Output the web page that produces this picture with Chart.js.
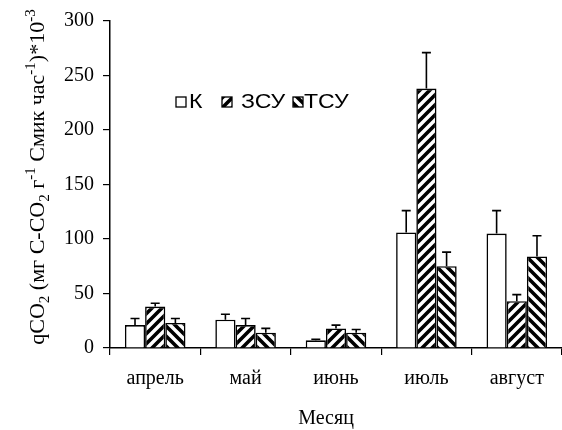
<!DOCTYPE html>
<html>
<head>
<meta charset="utf-8">
<script src="https://cdn.jsdelivr.net/npm/chart.js@4.4.1/dist/chart.umd.min.js"></script>
<style>
  body { margin: 0; background: #fff; }
  canvas { display: block; }
</style>
</head>
<body>
<canvas id="qco2Chart" width="562" height="430"></canvas>
<script>
// Data
const months = ['апрель', 'май', 'июнь', 'июль', 'август'];
const seriesNames = ['К', 'ЗСУ', 'ТСУ'];
const valuesK   = [21, 26, 7, 106, 105];
const valuesZSU = [38, 21, 18, 238, 43];
const valuesTSU = [23, 14, 14, 75, 84];
const errK   = [6, 5, 1, 20, 21];
const errZSU = [3, 6, 3, 33, 6];
const errTSU = [4, 4, 3, 13, 19];
const yTicks = [0, 50, 100, 150, 200, 250, 300];

const serif = '"Liberation Serif", "Times New Roman", serif';
const sans = '"Liberation Sans", Arial, sans-serif';

// Striped fills for ЗСУ (/) and ТСУ (\)
function makeStripes(forward) {
    const size = 10;
    const c = document.createElement('canvas');
    c.width = size; c.height = size;
    const ctx = c.getContext('2d');
    ctx.fillStyle = '#fff';
    ctx.fillRect(0, 0, size, size);
    ctx.strokeStyle = '#000';
    ctx.lineWidth = 3.6;
    ctx.beginPath();
    for (let k = -1; k <= 1; k++) {
        if (forward) {
            ctx.moveTo(-size + k * size, 2 * size);
            ctx.lineTo(2 * size + k * size, -size);
        } else {
            ctx.moveTo(-size + k * size, -size);
            ctx.lineTo(2 * size + k * size, 2 * size);
        }
    }
    ctx.stroke();
    return ctx.createPattern(c, 'repeat');
}

// Upward error bars, drawn through the y scale
const errorBars = {
    id: 'errorBars',
    afterDatasetsDraw(chart) {
        const ctx = chart.ctx;
        const yScale = chart.scales.y;
        ctx.save();
        ctx.strokeStyle = '#000';
        ctx.lineWidth = 1.6;
        chart.data.datasets.forEach((ds, i) => {
            const meta = chart.getDatasetMeta(i);
            meta.data.forEach((bar, j) => {
                const top = yScale.getPixelForValue(ds.data[j] + ds.errors[j]);
                ctx.beginPath();
                ctx.moveTo(bar.x, bar.y);
                ctx.lineTo(bar.x, top);
                ctx.moveTo(bar.x - 4.5, top);
                ctx.lineTo(bar.x + 4.5, top);
                ctx.stroke();
            });
        });
        ctx.restore();
    }
};

// Legend inside the plot, like the original (slightly wide sans text)
const innerLegend = {
    id: 'innerLegend',
    afterDraw(chart) {
        const ctx = chart.ctx;
        const boxX = [176, 222, 293];
        const textX = [189, 241, 304];
        const y = 101;
        ctx.save();
        ctx.font = '21px ' + sans;
        ctx.textBaseline = 'middle';
        chart.data.datasets.forEach((ds, i) => {
            ctx.fillStyle = ds.backgroundColor;
            ctx.fillRect(boxX[i], y - 4, 10, 10);
            ctx.strokeStyle = '#000';
            ctx.lineWidth = 1.3;
            ctx.strokeRect(boxX[i], y - 4, 10, 10);
            ctx.fillStyle = '#000';
            ctx.save();
            ctx.translate(textX[i], y + 1);
            ctx.scale(1.1, 1);
            ctx.fillText(ds.label, 0, 0);
            ctx.restore();
        });
        ctx.restore();
    }
};

// Axis titles: rotated y title with sub/superscripts, x title
const axisTitles = {
    id: 'axisTitles',
    afterDraw(chart) {
        const ctx = chart.ctx;
        const parts = [
            ['qCO', 0], ['2', 1], [' (мг C-CO', 0], ['2', 1], [' г', 0], ['-1', -1],
            [' Cмик час', 0], ['-1', -1], [')*10', 0], ['-3', -1]
        ];
        const big = '22px ' + serif;
        const small = '15px ' + serif;
        ctx.save();
        let total = 0;
        parts.forEach(p => {
            ctx.font = p[1] === 0 ? big : small;
            total += ctx.measureText(p[0]).width;
        });
        ctx.translate(37, 177);
        ctx.rotate(-Math.PI / 2);
        ctx.fillStyle = '#000';
        ctx.textBaseline = 'alphabetic';
        let x = -total / 2;
        parts.forEach(p => {
            ctx.font = p[1] === 0 ? big : small;
            const dy = p[1] === 1 ? 5 : (p[1] === -1 ? -9 : 0);
            ctx.fillText(p[0], x, 7 + dy);
            x += ctx.measureText(p[0]).width;
        });
        ctx.restore();

        ctx.save();
        ctx.font = '20px ' + serif;
        ctx.fillStyle = '#000';
        ctx.textAlign = 'center';
        ctx.textBaseline = 'middle';
        ctx.fillText('Месяц', 326, 419);
        ctx.restore();
    }
};

const ctx = document.getElementById('qco2Chart').getContext('2d');
const qco2Chart = new Chart(ctx, {
    type: 'bar',
    data: {
        labels: months,
        datasets: [
            { label: seriesNames[0], data: valuesK, errors: errK, backgroundColor: '#fff' },
            { label: seriesNames[1], data: valuesZSU, errors: errZSU, backgroundColor: makeStripes(true) },
            { label: seriesNames[2], data: valuesTSU, errors: errTSU, backgroundColor: makeStripes(false) }
        ].map(ds => Object.assign(ds, {
            borderColor: '#000',
            borderWidth: 1.6,
            categoryPercentage: 0.67,
            barPercentage: 1
        }))
    },
    options: {
        responsive: false,
        animation: false,
        layout: { padding: { top: 10, right: 0, left: 0, bottom: 0 } },
        plugins: {
            legend: { display: false },
            tooltip: { enabled: false }
        },
        scales: {
            x: {
                grid: { display: true, drawOnChartArea: false, offset: true, tickLength: 7, color: '#000', lineWidth: 1.2 },
                border: { color: '#000', width: 1.5 },
                ticks: { color: '#000', font: { family: serif, size: 20 }, padding: 12 },
                afterFit(scale) { scale.height = 82; }
            },
            y: {
                min: 0,
                max: 300,
                afterBuildTicks(scale) { scale.ticks = yTicks.map(v => ({ value: v })); },
                grid: { display: true, drawOnChartArea: false, tickLength: 7, color: '#000', lineWidth: 1.2 },
                border: { color: '#000', width: 1.5 },
                ticks: { color: '#000', font: { family: serif, size: 20 }, padding: 9 },
                afterFit(scale) { scale.width = 110; }
            }
        }
    },
    plugins: [errorBars, innerLegend, axisTitles]
});
</script>
</body>
</html>
